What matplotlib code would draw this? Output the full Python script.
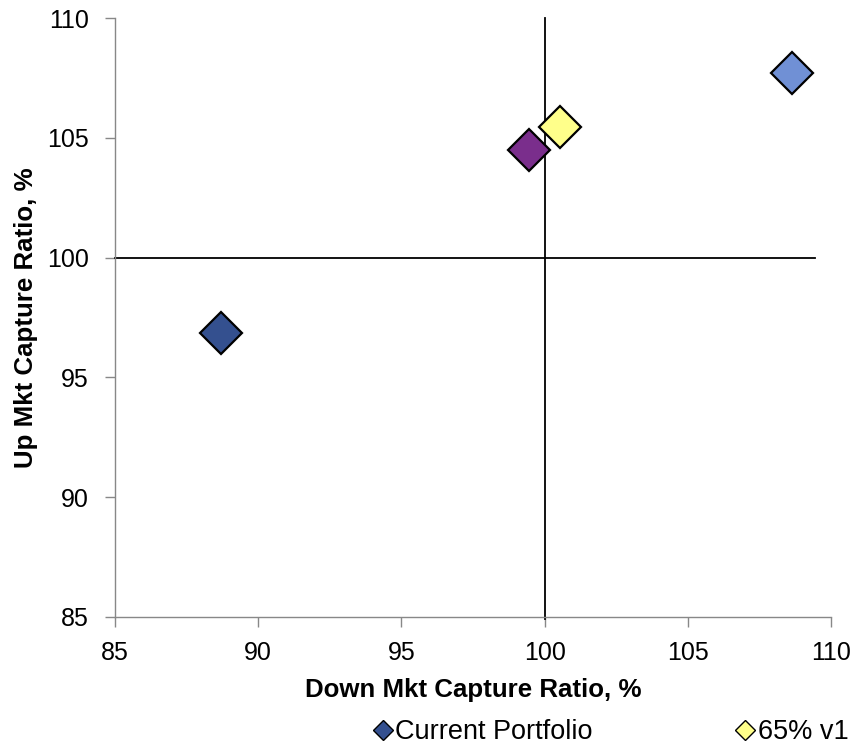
import matplotlib
matplotlib.use("Agg")
import matplotlib.pyplot as plt
from matplotlib.lines import Line2D

plt.rcParams['font.family'] = ['Liberation Sans', 'DejaVu Sans']

series_names = ["Current Portfolio", "Series 2", "65% v1", "Series 4"]
down_capture = [88.7, 99.45, 100.55, 108.65]
up_capture = [96.85, 104.5, 105.45, 107.7]
colors = ["#34508F", "#7A2E8C", "#FFFF8A", "#7090D5"]

x_ticks = [85, 90, 95, 100, 105, 110]
y_ticks = [85, 90, 95, 100, 105, 110]
ref_h_x = [85, 109.44]
ref_h_y = [100, 100]
ref_v_x = [100, 100]
ref_v_y = [84.9, 110]

fig = plt.figure(figsize=(8.56, 7.48), dpi=100)
ax = fig.add_axes([115/856, 1-617/748, (831-115)/856, (617-18)/748])

ax.plot(ref_h_x, ref_h_y, color="black", lw=1.3, zorder=2, clip_on=False)
ax.plot(ref_v_x, ref_v_y, color="black", lw=1.3, zorder=2, clip_on=False)

for name, x, y, c in zip(series_names, down_capture, up_capture, colors):
    ax.plot([x], [y], marker="D", markersize=21.5, markerfacecolor=c,
            markeredgecolor="black", markeredgewidth=1.6, linestyle="none",
            zorder=3, label=name)

ax.set_xlim(85, 110)
ax.set_ylim(85, 110)
ax.set_xticks(x_ticks)
ax.set_yticks(y_ticks)
ax.tick_params(axis="both", labelsize=18, length=7, width=1, color="#888888",
               direction="out")
ax.tick_params(axis="x", pad=10)
ax.tick_params(axis="y", pad=12)
for s in ["top", "right"]:
    ax.spines[s].set_visible(False)
for s in ["left", "bottom"]:
    ax.spines[s].set_color("#888888")
    ax.spines[s].set_linewidth(1)

ax.set_xlabel("Down Mkt Capture Ratio, %", fontsize=18.6, fontweight="bold", labelpad=10)
ax.set_ylabel("Up Mkt Capture Ratio, %", fontsize=18.6, fontweight="bold", labelpad=6)

handles = [
    Line2D([], [], marker="D", markersize=10, markerfacecolor=colors[0],
           markeredgecolor="black", markeredgewidth=1, linestyle="none"),
    Line2D([], [], marker="D", markersize=10, markerfacecolor=colors[2],
           markeredgecolor="black", markeredgewidth=1, linestyle="none"),
]
fig.legend(handles, [series_names[0], series_names[2]], ncol=2,
           loc="center left", bbox_to_anchor=(376/856, 1-732/748),
           frameon=False, fontsize=19.5, handlelength=0.5, handletextpad=0.2,
           columnspacing=5.4, borderpad=0, borderaxespad=0)

fig.savefig("out.png", dpi=100)
